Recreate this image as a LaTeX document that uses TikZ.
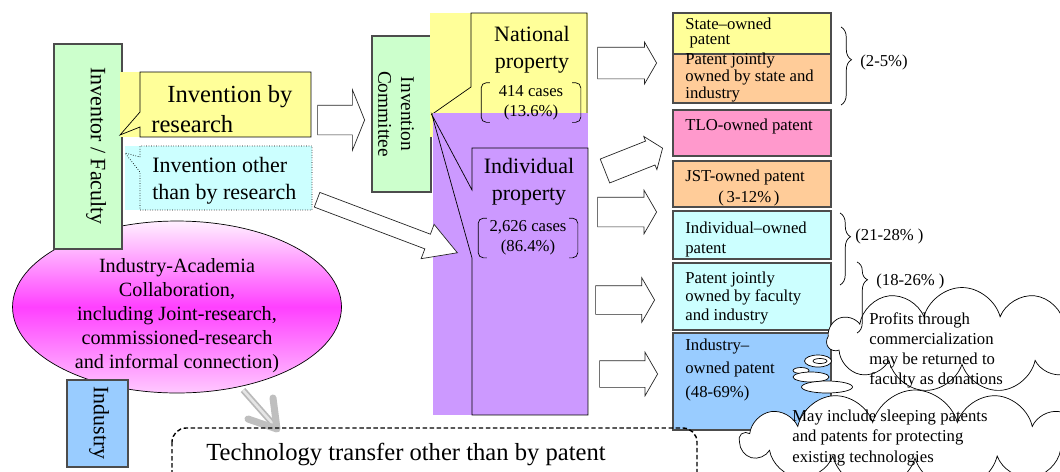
\documentclass[tikz,border=0pt]{standalone}
\usepackage{fontspec}
\setmainfont{Liberation Serif}
\usetikzlibrary{shapes.geometric,shapes.arrows,shapes.symbols}
\usetikzlibrary{decorations.pathreplacing}
\usetikzlibrary{positioning}
\definecolor{paleYellow}{HTML}{FFFF99}
\definecolor{paleGreen}{HTML}{CCFFCC}
\definecolor{paleCyan}{HTML}{CCFFFF}
\definecolor{paleOrange}{HTML}{FFCC99}
\definecolor{palePink}{HTML}{FF99CC}
\definecolor{paleBlue}{HTML}{99CCFF}
\definecolor{paleViolet}{HTML}{CC99FF}
\definecolor{iaMagenta}{HTML}{FF40FF}
\definecolor{iaTop}{HTML}{FFF0FF}
\definecolor{iaLight}{HTML}{FFC8FF}
\tikzset{
	box/.style={draw=black!70, line width=0.6pt},
	blockarrow/.style={single arrow, draw=black!85, fill=white, thin, inner xsep=0pt, single arrow tip angle=120, anchor=tip},
	bigtext/.style={font=\fontsize{14}{17}\selectfont, inner sep=0pt},
	midtext/.style={font=\fontsize{12.5}{15}\selectfont, inner sep=0pt},
	smalltext/.style={font=\fontsize{9.5}{8}\selectfont, inner sep=0pt, align=left, anchor=base west},
	cloudtext/.style={font=\fontsize{9.5}{11.2}\selectfont, inner sep=0pt, align=left, anchor=base west},
	casebox/.style={font=\fontsize{9.5}{11.3}\selectfont, align=center, minimum width=1.98cm, minimum height=0.78cm, inner sep=0pt},
	pctbrace/.style={decorate, thin},
	bubble/.style={ellipse, draw, thin, fill=white, inner sep=0pt}
}
\begin{document}
\begin{tikzpicture}[x=0.02cm, y=-0.02cm]
				\useasboundingbox (0,0) rectangle (1060,471);
				% left side
				\node[ellipse, draw, thin, inner sep=0pt, minimum width=6.58cm, minimum height=3.44cm, top color=iaTop, bottom color=iaLight, middle color=iaMagenta] (iaEll) at (177,307) {};
				\node[font=\fontsize{11.5}{13.6}\selectfont, align=center, inner sep=0pt, anchor=base] (iaText) at (177,368) {Industry-Academia\\Collaboration,\\including Joint-research,\\commissioned-research\\and informal connection)};
				\filldraw[box, fill=paleGreen] (54,44) rectangle (122,249);
				\node[midtext, rotate=-90] (facultyText) at (96,146) {Inventor / Faculty};
				\filldraw[box, fill=paleBlue] (67,380) rectangle (128,467);
				\node[midtext, rotate=-90] (industryText) at (99,423) {Industry};
				\fill[paleYellow] (120,72) rectangle (311,137);
				\draw (140,112) -- (140,72) -- (311,72) -- (311,137) -- (140,137) -- (140,127) -- (120,135) -- cycle;
				\node[bigtext, anchor=base west] (resText) at (167,102) {Invention by};
				\node[bigtext, anchor=base west] (resText2) at (151,132) {research};
				\fill[paleCyan] (125,146) rectangle (312,210);
				\draw[densely dotted] (140,157) -- (140,146) -- (312,146) -- (312,210) -- (140,210) -- (140,172) -- (125,153) -- cycle;
				\node[midtext, anchor=base west, align=left] (otherText) at (152,199) {Invention other\\than by research};
				% committee and property
				\filldraw[box, fill=paleGreen] (372,36) rectangle (431,192);
				\node[font=\fontsize{11}{13}\selectfont, rotate=-90, align=center, inner sep=0pt] (commText) at (396,114) {Invention\\Committee};
				\fill[paleYellow] (430,13) rectangle (588,137);
				\draw (431,115) -- (471,87) -- (471,13) -- (587,13) -- (587,113);
				\node[midtext, align=center, anchor=base] (natText) at (532,68) {National\\property};
				\fill[paleViolet] (433,113) rectangle (588,415);
				\draw (472,190) -- (472,148) -- (588,148) -- (588,415) -- (472,415) -- (472,258) -- (432,115) -- cycle;
				\node[midtext, align=center, anchor=base] (indText) at (529,200) {Individual\\property};
				\node[casebox] (natCases) at (531,102.5) {414 cases\\(13.6\%)};
				\node[casebox] (indCases) at (528,238) {2,626 cases\\(86.4\%)};
				\foreach \c in {natCases,indCases} {
					\draw[rounded corners=3pt] ([xshift=5pt]\c.north west) -| (\c.south west) -- ++(5pt,0);
					\draw[rounded corners=3pt] ([xshift=-5pt]\c.north east) -| (\c.south east) -- ++(-5pt,0);
				}
				% block arrows
				\node[blockarrow, minimum height=0.94cm, inner ysep=0.29cm, single arrow head extend=0.31cm, single arrow tip angle=136] (toComm) at (365,120) {};
				\node[blockarrow, rotate=-20.7, minimum height=3cm, inner ysep=0.15cm, single arrow head extend=0.21cm, single arrow tip angle=60] (toInd) at (458,253) {};
				\node[blockarrow, minimum height=1.18cm, inner ysep=0.31cm, single arrow head extend=0.1cm] (toState) at (657,63) {};
				\node[blockarrow, rotate=21.6, minimum height=1.24cm, inner ysep=0.25cm, single arrow head extend=0.1cm, single arrow tip angle=107] (toTLO) at (663,148) {};
				\node[blockarrow, minimum height=1.18cm, inner ysep=0.29cm, single arrow head extend=0.14cm] (toJST) at (657,212) {};
				\node[blockarrow, minimum height=1.18cm, inner ysep=0.28cm, single arrow head extend=0.16cm] (toJoint) at (655,300) {};
				\node[blockarrow, minimum height=1.16cm, inner ysep=0.26cm, single arrow head extend=0.17cm] (toIndustry) at (658,374) {};
				% patent boxes
				\filldraw[box, fill=paleYellow] (673,13) rectangle (831,54);
				\filldraw[box, fill=paleOrange] (673,54) rectangle (831,103);
				\filldraw[box, fill=palePink] (673,110) rectangle (831,156);
				\filldraw[box, fill=paleOrange] (673,161) rectangle (831,207);
				\filldraw[box, fill=paleCyan] (673,211) rectangle (831,259);
				\filldraw[box, fill=paleCyan] (673,263) rectangle (831,330);
				\filldraw[box, fill=paleBlue] (673,333) rectangle (831,430);
				\node[smalltext] (stateText) at (685,44) {State–owned\\\ patent};
				\node[smalltext] (jointStateText) at (685,98) {Patent jointly\\owned by state and\\industry};
				\node[smalltext] (tloText) at (685,130) {TLO-owned patent};
				\node[smalltext] (jstText) at (685,181) {JST-owned patent};
				\node[smalltext] (jstPct) at (718,202) {(\,3-12\%\,)};
				\node[smalltext, font=\fontsize{9.5}{11.3}\selectfont] (indivText) at (685,253) {Individual–owned\\patent};
				\node[smalltext, font=\fontsize{9.5}{10.5}\selectfont] (jointFacText) at (685,320) {Patent jointly\\owned by faculty\\and industry};
				\node[smalltext, font=\fontsize{9.5}{13.3}\selectfont] (industryOwnText) at (685,397) {Industry–\\owned patent\\(48-69\%)};
				% shares
				\coordinate (braceA1) at (841,27);
				\coordinate (braceA2) at (841,105);
				\coordinate (braceB1) at (840,213);
				\coordinate (braceB2) at (840,285);
				\coordinate (braceC1) at (857,262);
				\coordinate (braceC2) at (857,333);
				\draw[pctbrace, decoration={brace, amplitude=6pt, aspect=0.42}] (braceA1) -- (braceA2);
				\draw[pctbrace, decoration={brace, amplitude=6pt, aspect=0.33}] (braceB1) -- (braceB2);
				\node[smalltext, anchor=west] (pctA) at (860,62) {(2-5\%)};
				\node[smalltext, anchor=west] (pctB) at (855,236) {(21-28\% )};
				% remarks
				\node[cloud, draw, thin, fill=white, cloud puffs=11, aspect=2.5, minimum width=5.4cm, minimum height=2.1cm, inner sep=0pt] (profitCloud) at (962,340) {};
				\draw[pctbrace, decoration={brace, amplitude=6pt, aspect=0.25}] (braceC1) -- (braceC2);
				\node[smalltext, anchor=west] (pctC) at (876,281) {(18-26\% )};
				\node[bubble, minimum width=0.54cm, minimum height=0.24cm] (bubA) at (818,361) {};
				\node[bubble, minimum width=0.28cm, minimum height=0.1cm] (bubAin) at (820,361) {};
				\node[bubble, minimum width=0.32cm, minimum height=0.12cm] (bubB) at (801,370.5) {};
				\node[bubble, minimum width=0.72cm, minimum height=0.2cm] (bubC) at (811,377) {};
				\node[bubble, minimum width=1.02cm, minimum height=0.24cm] (bubD) at (827,387) {};
				\node[cloudtext] (profitText) at (869,384) {Profits through\\commercialization\\may be returned to\\faculty as donations};
				\node[cloud, draw, thin, fill=white, cloud puffs=13, aspect=3.5, minimum width=7cm, minimum height=2cm, inner sep=0pt] (sleepCloud) at (915,440) {};
				\node[cloudtext, font=\fontsize{9.5}{11.6}\selectfont] (sleepText) at (792,462) {May include sleeping patents\\and patents for protecting\\existing technologies};
				% other transfer
				\coordinate (grayTail) at (243,390);
				\coordinate (grayTip) at (277,429);
				\draw[gray!55, double=gray!20, double distance=1.5pt, line width=1pt] (grayTail) -- ([shift={(-4,-5)}]grayTip);
				\draw[gray!50, line width=4pt, line cap=round, line join=round] ([shift={(-29,-10)}]grayTip) -- (grayTip) -- ([shift={(-4,-31)}]grayTip);
				\draw[line width=0.8pt, dash pattern=on 2.5pt off 1.5pt, rounded corners=8pt] (172,428) rectangle (697,500);
				\node[bigtext, anchor=base] (techText) at (406,460) {Technology transfer other than by patent};
\end{tikzpicture}
\end{document}
